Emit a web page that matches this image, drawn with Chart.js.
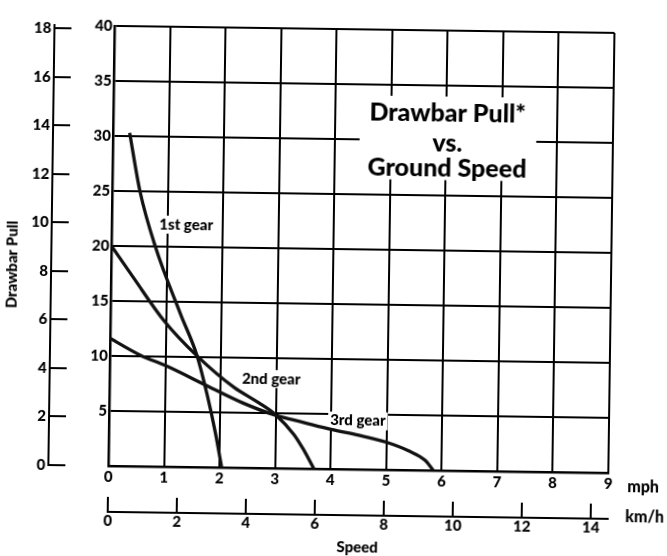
<!DOCTYPE html>
<html>
<head>
<meta charset="utf-8">
<title>Drawbar Pull vs. Ground Speed</title>
<script src="https://cdn.jsdelivr.net/npm/chart.js@4.4.1/dist/chart.umd.min.js"></script>
<style>
    html, body { margin: 0; padding: 0; background: #fff; }
    /* скан в оригинале чуть повернут */
    #chart { display: block; transform: rotate(0.8deg); }
</style>
</head>
<body>
<canvas id="chart" width="667" height="556"></canvas>
<script>
// Данные: скорость в mph, тяговое усилие в 1000 lb
const mphTicks = [0, 1, 2, 3, 4, 5, 6, 7, 8, 9];
const kmhTicks = [0, 2, 4, 6, 8, 10, 12, 14];
const pullTicks = [5, 10, 15, 20, 25, 30, 35, 40];
const tonneTicks = [0, 2, 4, 6, 8, 10, 12, 14, 16, 18];

const gear1Speed = [0.30, 0.50, 0.79, 1.26, 1.57, 1.76, 1.92, 2.04];
const gear1Pull  = [30.3, 25.0, 20.0, 13.9, 10.1, 6.6, 3.1, 0];

const gear2Speed = [0, 0.41, 0.96, 1.57, 2.24, 2.70, 3.00, 3.33, 3.50, 3.70];
const gear2Pull  = [20.0, 17.1, 13.3, 10.1, 7.3, 5.9, 4.85, 3.1, 1.8, 0];

const gear3Speed = [0, 0.55, 1.0, 1.8, 2.4, 3.0, 3.5, 4.0, 4.5, 5.0, 5.4, 5.7, 5.85];
const gear3Pull  = [11.6, 10.1, 9.2, 7.3, 5.9, 4.8, 4.2, 3.6, 3.1, 2.5, 1.75, 0.9, 0];

const gearNames = ['1st gear', '2nd gear', '3rd gear'];
const titleLines = ['Drawbar Pull*', 'vs.', 'Ground Speed'];

const KMH_PER_MPH = 1.609344;
const LB_PER_KG = 2.20462;

document.addEventListener('DOMContentLoaded', function() {
    const FONT = 'Lato, "DejaVu Sans", sans-serif';
    const tickFont = { family: FONT, size: 15, weight: '900' };

    function toPoints(xs, ys) {
        return xs.map((v, i) => ({ x: v, y: ys[i] }));
    }

    // Подписи передач: где стоят на графике (mph, 1000 lb)
    const gearLabelAt = [
        { x: 1.34, y: 22.0 },
        { x: 2.91, y: 8.1 },
        { x: 4.48, y: 4.4 }
    ];

    // Текст с белой подложкой поверх сетки
    function boxedText(ctx, text, cx, cy, pad) {
        const w = ctx.measureText(text).width;
        ctx.fillStyle = '#fff';
        ctx.fillRect(cx - w / 2 - pad, cy - 9, w + pad * 2, 18);
        ctx.fillStyle = '#000';
        ctx.fillText(text, cx, cy);
    }

    const notesPlugin = {
        id: 'notes',
        beforeDatasetsDraw(chart) {
            const { ctx, scales: { x, y } } = chart;
            ctx.save();

            // Заголовок внутри поля графика
            const left = x.getPixelForValue(4.44);
            const right = x.getPixelForValue(7.62);
            const top = y.getPixelForValue(34.0);
            const bottom = y.getPixelForValue(26.4);
            ctx.fillStyle = '#fff';
            ctx.fillRect(left, top, right - left, bottom - top);

            ctx.fillStyle = '#000';
            ctx.textAlign = 'center';
            ctx.textBaseline = 'alphabetic';
            ctx.font = '900 25px ' + FONT;
            const tx = x.getPixelForValue(6.02);
            const baselines = [31.7, 29.0, 26.7];
            titleLines.forEach((line, i) => {
                ctx.fillText(line, tx, y.getPixelForValue(baselines[i]));
            });

            // Подписи передач
            ctx.font = '900 15px ' + FONT;
            ctx.textBaseline = 'middle';
            gearNames.forEach((name, i) => {
                const p = gearLabelAt[i];
                boxedText(ctx, name, x.getPixelForValue(p.x), y.getPixelForValue(p.y), 2);
            });
            ctx.restore();
        },
        afterDraw(chart) {
            const { ctx, scales: { x } } = chart;
            ctx.save();
            ctx.fillStyle = '#000';
            ctx.font = '900 16px ' + FONT;
            ctx.textAlign = 'center';
            ctx.textBaseline = 'middle';
            ctx.fillText('mph', x.right + 35, 483);
            ctx.fillText('km/h', x.right + 37, 513);

            // Подпись оси слева, повернутая
            ctx.translate(12, 269);
            ctx.rotate(-Math.PI / 2);
            ctx.font = '900 15px ' + FONT;
            ctx.fillText('Drawbar Pull', 0, 0);
            ctx.restore();
        }
    };

    const curve = {
        showLine: true,
        borderColor: '#111',
        borderWidth: 3.3,
        pointRadius: 0,
        cubicInterpolationMode: 'monotone',
        fill: false
    };

    new Chart(document.getElementById('chart'), {
        type: 'scatter',
        data: {
            datasets: [
                Object.assign({ label: gearNames[0], data: toPoints(gear1Speed, gear1Pull) }, curve),
                Object.assign({ label: gearNames[1], data: toPoints(gear2Speed, gear2Pull) }, curve),
                Object.assign({ label: gearNames[2], data: toPoints(gear3Speed, gear3Pull) }, curve)
            ]
        },
        options: {
            responsive: false,
            animation: false,
            devicePixelRatio: 1,
            layout: { padding: { top: 16, right: 56, bottom: 0, left: 0 } },
            plugins: {
                legend: { display: false },
                tooltip: { enabled: false }
            },
            scales: {
                x: {
                    type: 'linear',
                    position: 'bottom',
                    weight: 0,
                    min: 0,
                    max: 9,
                    afterBuildTicks: s => { s.ticks = mphTicks.map(v => ({ value: v })); },
                    afterFit: s => { s.height = 46; },
                    ticks: { padding: 2, color: '#000', font: tickFont },
                    grid: { color: '#000', lineWidth: 2, drawTicks: false },
                    border: { color: '#000', width: 2.5 }
                },
                x2: {
                    type: 'linear',
                    position: 'bottom',
                    axis: 'x',
                    weight: 1,
                    min: 0,
                    max: 9 * KMH_PER_MPH,
                    afterBuildTicks: s => { s.ticks = kmhTicks.map(v => ({ value: v })); },
                    afterFit: s => { s.height = 41; },
                    ticks: { padding: 15, color: '#000', font: tickFont },
                    grid: { drawOnChartArea: false, color: '#000', lineWidth: 2, tickLength: -15 },
                    border: { color: '#000', width: 2 },
                    title: { display: true, text: 'Speed', color: '#000', font: tickFont, padding: 0 }
                },
                y: {
                    type: 'linear',
                    position: 'left',
                    weight: 0,
                    min: 0,
                    max: 40,
                    afterBuildTicks: s => { s.ticks = [0].concat(pullTicks).map(v => ({ value: v })); },
                    afterFit: s => { s.width = 60; },
                    ticks: {
                        padding: 2,
                        color: '#000',
                        font: tickFont,
                        callback: v => (v === 0 ? '' : v)
                    },
                    grid: { color: '#000', lineWidth: 2, drawTicks: false },
                    border: { color: '#000', width: 2.5 }
                },
                y2: {
                    type: 'linear',
                    position: 'left',
                    axis: 'y',
                    weight: 1,
                    min: 0,
                    max: 40 / LB_PER_KG,
                    afterBuildTicks: s => { s.ticks = tonneTicks.map(v => ({ value: v })); },
                    afterFit: s => { s.width = 51; },
                    ticks: { padding: 20, color: '#000', font: tickFont },
                    grid: { drawOnChartArea: false, color: '#000', lineWidth: 2, tickLength: -17 },
                    border: { color: '#000', width: 2 }
                }
            }
        },
        plugins: [notesPlugin]
    });
});
</script>
</body>
</html>
